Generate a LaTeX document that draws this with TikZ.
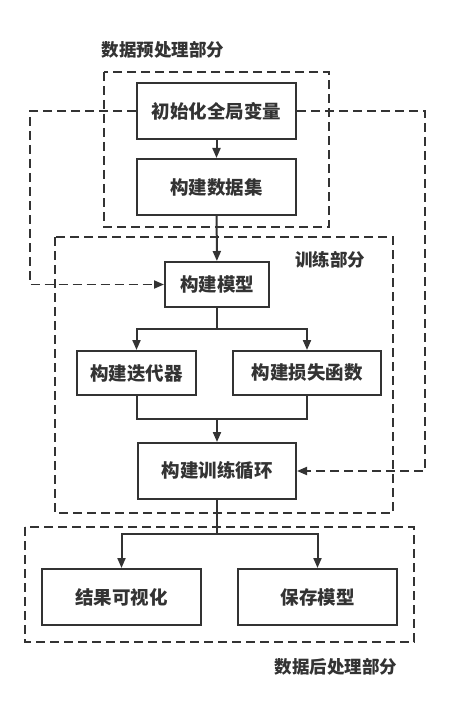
\documentclass[tikz,border=0pt]{standalone}
\usepackage{fontspec}
\newfontfamily\cjk{Noto Sans CJK SC}
\usetikzlibrary{arrows.meta}
\definecolor{linegray}{HTML}{333333}
\begin{document}
\begin{tikzpicture}[x=1pt,y=-1pt,
    stepbox/.style={draw=linegray, line width=2pt, rectangle, text=linegray,
        font=\cjk\bfseries\fontsize{18.5}{18.5}\selectfont, inner sep=0pt},
    groupbox/.style={draw=linegray, line width=1.9pt, dash pattern=on 9pt off 5pt},
    grouplabel/.style={text=linegray, font=\cjk\bfseries\fontsize{17.5}{17.5}\selectfont},
    arr/.style={draw=linegray, line width=2pt, -{Triangle[length=10pt,width=8pt]}},
    link/.style={draw=linegray, line width=2pt},
    dasharr/.style={draw=linegray, line width=1.9pt, dash pattern=on 9pt off 5pt,
        -{Triangle[length=10pt,width=8pt]}}]
                    \useasboundingbox (0,0) rectangle (450,714);
                    % dashed group frames
                    \draw[groupbox] (104,72) rectangle (329,227);
                    \draw[groupbox] (55,237) rectangle (393,513);
                    \draw[groupbox] (25,527) rectangle (414,642);
                    \node[grouplabel] (prelabel) at (163,50) {数据预处理部分};
                    \node[grouplabel] (trainlabel) at (330,260) {训练部分};
                    \node[grouplabel] (postlabel) at (336,667) {数据后处理部分};
                    % steps
                    \node[stepbox, minimum width=159pt, minimum height=56pt] (init) at (216.5,111) {初始化全局变量};
                    \node[stepbox, minimum width=159pt, minimum height=56pt] (data) at (216.5,187) {构建数据集};
                    \node[stepbox, minimum width=104pt, minimum height=45pt] (model) at (217,284.5) {构建模型};
                    \node[stepbox, minimum width=119pt, minimum height=44pt] (iter) at (136.5,373) {构建迭代器};
                    \node[stepbox, minimum width=148pt, minimum height=44pt] (loss) at (307,373) {构建损失函数};
                    \node[stepbox, minimum width=158pt, minimum height=56pt] (loop) at (217,471) {构建训练循环};
                    \node[stepbox, minimum width=159pt, minimum height=56pt] (vis) at (121.5,597) {结果可视化};
                    \node[stepbox, minimum width=159pt, minimum height=56pt] (save) at (317.5,597) {保存模型};
                    % joints
                    \coordinate (split1) at (217,329);
                    \coordinate (merge) at (217,419);
                    \coordinate (split2) at (217,534);
                    \coordinate (fbleft) at (30,111);
                    \coordinate (fbright) at (425,111);
                    % connectors
                    \draw[arr] (init) -- (data);
                    \draw[arr] (data) -- (model);
                    \draw[link] (model) -- (split1);
                    \draw[arr] (split1) -| (iter);
                    \draw[arr] (split1) -| (loss);
                    \draw[link] (iter) |- (merge);
                    \draw[link] (loss) |- (merge);
                    \draw[arr] (merge) -- (loop);
                    \draw[link] (loop) -- (split2);
                    \draw[arr] (split2) -| (vis);
                    \draw[arr] (split2) -| (save);
                    % feedback
                    \draw[dasharr] (init.west) -- (fbleft) |- (model.west);
                    \draw[dasharr] (init.east) -- (fbright) |- (loop.east);
\end{tikzpicture}
\end{document}
